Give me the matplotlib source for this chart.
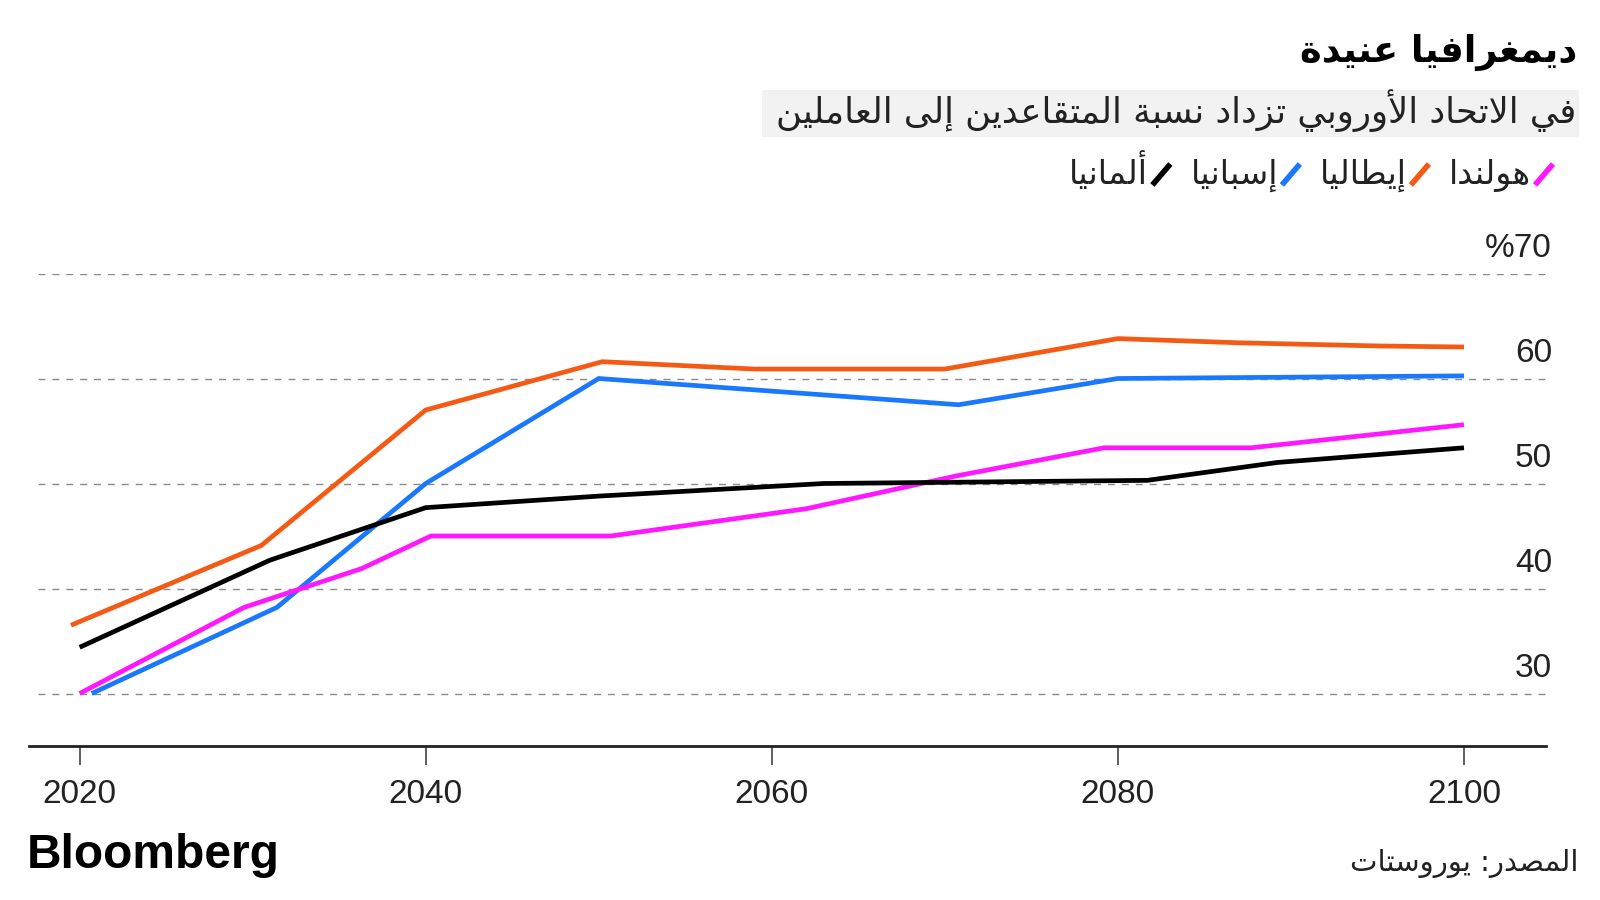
import matplotlib
matplotlib.use("Agg")
import matplotlib.pyplot as plt
from matplotlib.lines import Line2D
from matplotlib.patches import Rectangle

# ---------------- data ----------------
title_ar = "ديمغرافيا عنيدة"
subtitle_ar = "في الاتحاد الأوروبي تزداد نسبة المتقاعدين إلى العاملين"
source_ar = "المصدر: يوروستات"
brand = "Bloomberg"

series_names = ["هولندا", "إيطاليا", "إسبانيا", "ألمانيا"]
series_colors = ["#ff18ff", "#f45a14", "#1a78ff", "#000000"]

years_nl = [2020, 2029.5, 2036.3, 2040.3, 2050.7, 2062, 2070.6, 2079.2, 2087.7, 2100]
vals_nl = [30.0, 38.2, 41.9, 45.0, 45.0, 47.6, 50.7, 53.4, 53.4, 55.6]

years_it = [2019.5, 2030.5, 2040, 2050.2, 2059, 2070, 2080, 2087, 2095, 2100]
vals_it = [36.5, 44.1, 57.0, 61.6, 60.9, 60.9, 63.8, 63.4, 63.1, 63.0]

years_es = [2020.7, 2031.4, 2040, 2050, 2070.8, 2080, 2100]
vals_es = [30.0, 38.2, 50.0, 60.0, 57.5, 60.0, 60.25]

years_de = [2020, 2031, 2040, 2050, 2063, 2081.7, 2089.2, 2100]
vals_de = [34.4, 42.7, 47.7, 48.8, 50.0, 50.3, 52.0, 53.4]

x_ticks = [2020, 2040, 2060, 2080, 2100]
y_ticks = [30, 40, 50, 60, 70]
y_tick_labels = ["30", "40", "50", "60", "%70"]

# ---------------- Arabic shaping helper ----------------
_AR = {
    0x0621: (0xFE80, 1), 0x0622: (0xFE81, 2), 0x0623: (0xFE83, 2), 0x0624: (0xFE85, 2),
    0x0625: (0xFE87, 2), 0x0626: (0xFE89, 4), 0x0627: (0xFE8D, 2), 0x0628: (0xFE8F, 4),
    0x0629: (0xFE93, 2), 0x062A: (0xFE95, 4), 0x062B: (0xFE99, 4), 0x062C: (0xFE9D, 4),
    0x062D: (0xFEA1, 4), 0x062E: (0xFEA5, 4), 0x062F: (0xFEA9, 2), 0x0630: (0xFEAB, 2),
    0x0631: (0xFEAD, 2), 0x0632: (0xFEAF, 2), 0x0633: (0xFEB1, 4), 0x0634: (0xFEB5, 4),
    0x0635: (0xFEB9, 4), 0x0636: (0xFEBD, 4), 0x0637: (0xFEC1, 4), 0x0638: (0xFEC5, 4),
    0x0639: (0xFEC9, 4), 0x063A: (0xFECD, 4), 0x0641: (0xFED1, 4), 0x0642: (0xFED5, 4),
    0x0643: (0xFED9, 4), 0x0644: (0xFEDD, 4), 0x0645: (0xFEE1, 4), 0x0646: (0xFEE5, 4),
    0x0647: (0xFEE9, 4), 0x0648: (0xFEED, 2), 0x0649: (0xFEEF, 2), 0x064A: (0xFEF1, 4),
}
_LAMALEF = {0x0622: 0xFEF5, 0x0623: 0xFEF7, 0x0625: 0xFEF9, 0x0627: 0xFEFB}


def ar(s):
    units = []
    i = 0
    while i < len(s):
        c = ord(s[i])
        if c == 0x0644 and i + 1 < len(s) and ord(s[i + 1]) in _LAMALEF:
            b = _LAMALEF[ord(s[i + 1])]
            units.append((chr(b), chr(b + 1), None, None, "R"))
            i += 2
            continue
        if c in _AR:
            b, n = _AR[c]
            if n == 4:
                units.append((chr(b), chr(b + 1), chr(b + 2), chr(b + 3), "D"))
            elif n == 2:
                units.append((chr(b), chr(b + 1), None, None, "R"))
            else:
                units.append((chr(b), None, None, None, "U"))
        else:
            units.append((s[i], None, None, None, "N"))
        i += 1
    out = []
    for k, u in enumerate(units):
        t = u[4]
        if t in ("N", "U"):
            out.append(u[0])
            continue
        pj = k > 0 and units[k - 1][4] == "D"
        nj = t == "D" and k + 1 < len(units) and units[k + 1][4] in ("D", "R")
        if pj and nj:
            out.append(u[3])
        elif pj:
            out.append(u[1])
        elif nj:
            out.append(u[2])
        else:
            out.append(u[0])
    return "".join(reversed(out))


# ---------------- figure ----------------
W, H = 1600, 900
fig = plt.figure(figsize=(16, 9), dpi=100)
fig.patch.set_facecolor("white")


def fx(x):
    return x / W


def fy(y):
    return 1 - y / H


AR_FONT = "DejaVu Sans"
LAT_FONT = "Liberation Sans"

ax = fig.add_axes([fx(28.6), fy(746), fx(1546) - fx(28.6), fy(273.5) - fy(746)])
ax.set_xlim(2017.05, 2104.74)
ax.set_ylim(25, 70)

for yv in y_ticks:
    ax.axhline(yv, xmin=0.006, xmax=1.0, color="#8a8a8a", lw=1.0,
               dashes=(5, 5), zorder=1)

series = [
    (years_es, vals_es, series_colors[2]),
    (years_nl, vals_nl, series_colors[0]),
    (years_de, vals_de, series_colors[3]),
    (years_it, vals_it, series_colors[1]),
]
for xs, ys, col in series:
    ax.plot(xs, ys, color=col, lw=3.4, solid_capstyle="butt",
            solid_joinstyle="miter", zorder=3)

for s in ["top", "right", "left"]:
    ax.spines[s].set_visible(False)
ax.spines["bottom"].set_color("#222222")
ax.spines["bottom"].set_linewidth(2.0)
ax.set_xticks(x_ticks)
ax.set_xticklabels([str(v) for v in x_ticks], fontfamily=LAT_FONT,
                   fontsize=24, color="#222222")
ax.tick_params(axis="x", direction="out", length=13.5, width=1.1,
               color="#333333", pad=10)
ax.set_yticks([])

for yv, lab in zip(y_ticks, y_tick_labels):
    ax.annotate(lab, xy=(1.0, yv), xycoords=("axes fraction", "data"),
                xytext=(4.3, 12.2), textcoords="offset points",
                ha="right", va="baseline", fontfamily=LAT_FONT,
                fontsize=24, color="#222222", annotation_clip=False)

# ---------------- header ----------------
fig.text(fx(1577), fy(62), ar(title_ar), ha="right", va="baseline",
         fontfamily=AR_FONT, fontweight="bold", fontsize=26.5, color="black")

sub = fig.text(fx(1576), fy(123), ar(subtitle_ar), ha="right", va="baseline",
               fontfamily=AR_FONT, fontsize=25.5, color="#222222", zorder=3)

renderer = fig.canvas.get_renderer()
sb = sub.get_window_extent(renderer)
box_left = sb.x0 - 14
fig.patches.append(Rectangle((fx(box_left), fy(137)), fx(1579) - fx(box_left),
                             fy(90) - fy(137), transform=fig.transFigure,
                             facecolor="#f2f2f2", edgecolor="none", zorder=0))

# legend, laid out right to left
x_right = 1553.0
base_y = 184.0
for name, col in zip(series_names, series_colors):
    fig.add_artist(Line2D([fx(x_right - 18), fx(x_right)],
                          [fy(base_y + 1), fy(base_y - 20)],
                          transform=fig.transFigure, color=col, lw=4.0,
                          solid_capstyle="butt"))
    t = fig.text(fx(x_right - 22), fy(base_y), ar(name), ha="right",
                 va="baseline", fontfamily=AR_FONT, fontsize=24,
                 color="#222222")
    w = t.get_window_extent(renderer).width
    x_right = x_right - 22 - w - 20

# ---------------- footer ----------------
fig.text(fx(27), fy(868), brand, ha="left", va="baseline",
         fontfamily=LAT_FONT, fontweight="bold", fontsize=34.5, color="black")
fig.text(fx(1578), fy(871), ar(source_ar), ha="right", va="baseline",
         fontfamily=AR_FONT, fontsize=21, color="#222222")

fig.savefig("out.png", dpi=100, facecolor="white")
